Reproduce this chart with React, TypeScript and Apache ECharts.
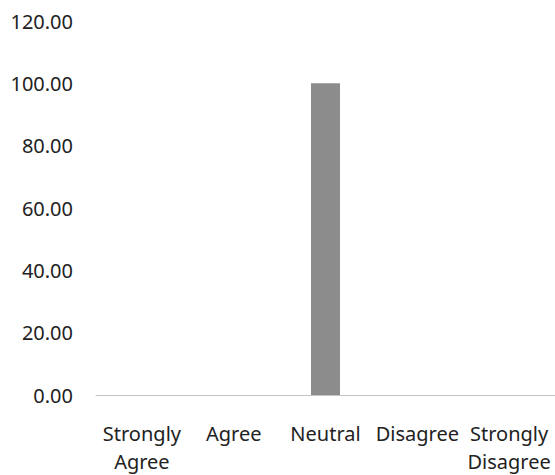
import React, { useEffect, useRef } from "react";
import * as echarts from "echarts";

const categories = ["Strongly\nAgree", "Agree", "Neutral", "Disagree", "Strongly\nDisagree"];
const values = [0, 0, 100, 0, 0];
const yMin = 0;
const yMax = 120;
const yStep = 20;

export default function App() {
  const ref = useRef<HTMLDivElement>(null);
  useEffect(() => {
    document.body.style.margin = "0";
    const chart = echarts.init(ref.current!, null, { renderer: "svg" });
    chart.setOption({
      animation: false,
      backgroundColor: "#ffffff",
      textStyle: { fontFamily: "Noto Sans" },
      grid: { left: 96, right: -2, top: 21, bottom: 79, containLabel: false },
      xAxis: {
        type: "category",
        data: categories,
        axisTick: { show: false },
        axisLine: { show: true, lineStyle: { color: "#c4c4c4", width: 1 } },
        axisLabel: {
          interval: 0,
          margin: 24,
          fontSize: 20,
          lineHeight: 28,
          color: "#222",
          fontFamily: "Noto Sans",
        },
      },
      yAxis: {
        type: "value",
        min: yMin,
        max: yMax,
        interval: yStep,
        splitLine: { show: false },
        axisLine: { show: false },
        axisTick: { show: false },
        axisLabel: {
          margin: 23,
          fontSize: 20,
          color: "#222",
          fontFamily: "Noto Sans",
          formatter: (v: number) => v.toFixed(2),
        },
      },
      series: [
        {
          type: "bar",
          data: values,
          barWidth: 29,
          itemStyle: { color: "#8c8c8c" },
        },
      ],
    });
    return () => chart.dispose();
  }, []);
  return <div ref={ref} style={{ width: 555, height: 475 }} />;
}
